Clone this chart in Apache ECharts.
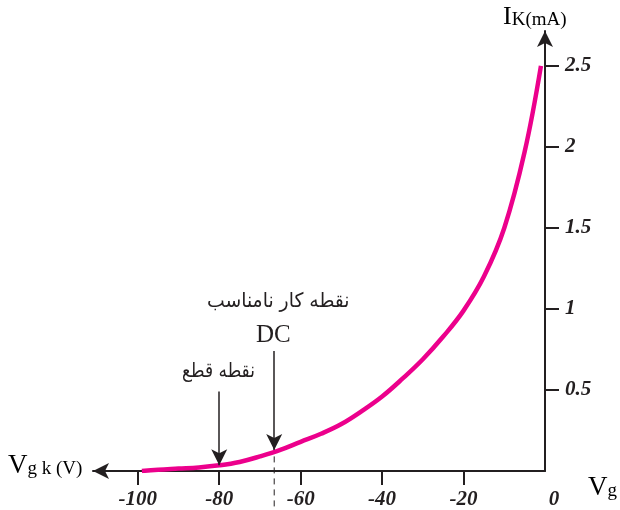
<!DOCTYPE html>
<html lang="fa">
  <head>
    <meta charset="UTF-8" />
    <title>Ik - Vgk</title>
    <style>
      html, body { margin: 0; padding: 0; background: #fff; }
      #main { width: 620px; height: 510px; }
    </style>
  </head>
  <body>
    <div id="main"></div>
    <script src="https://cdn.jsdelivr.net/npm/echarts@6/dist/echarts.min.js"></script>
    <script>
      // curve data: grid voltage (V) and cathode current (mA)
      const vgk = [-99, -95, -90, -85, -80, -75, -70, -65, -60, -55, -50, -45, -40, -35, -30, -25, -20, -15, -10, -5, -1];
      const ik = [0.0, 0.008, 0.015, 0.022, 0.035, 0.056, 0.09, 0.13, 0.18, 0.23, 0.29, 0.37, 0.46, 0.57, 0.69, 0.83, 0.99, 1.2, 1.5, 1.97, 2.5];

      const xTicks = [-100, -80, -60, -40, -20];
      const xLabels = [-100, -80, -60, -40, -20, 0];
      const yTicks = [0.5, 1, 1.5, 2, 2.5];

      // annotation arrows [x, yFrom, yTo]
      const cutArrow = [-80, 0.49, 0.035];
      const dcArrow = [-66.5, 0.74, 0.13];
      const dcDash = [-66.5, 0.09, -0.26];

      const ink = "#231f20";
      const pink = "#ec008c";
      const numFont = { fontFamily: "Liberation Serif", fontStyle: "italic", fontWeight: "bold", fontSize: 21, color: ink };

      const myChart = echarts.init(document.getElementById("main"));
      const option = {
        animation: false,
        grid: { left: 93, right: 75, top: 31, bottom: 39 },
        xAxis: {
          type: "value",
          min: -111,
          max: 0,
          splitLine: { show: false },
          axisLine: { lineStyle: { color: ink, width: 2 }, symbol: ["arrow", "none"], symbolSize: [12, 16] },
          axisTick: { customValues: xTicks, length: 14, lineStyle: { color: ink, width: 2 } },
          axisLabel: Object.assign({
            customValues: xLabels,
            margin: 18,
            formatter: (v) => (v === 0 ? "{z|0}" : String(v)),
            rich: { z: Object.assign({ padding: [0, 0, 0, 18] }, numFont) }
          }, numFont)
        },
        yAxis: {
          type: "value",
          position: "right",
          min: 0,
          max: 2.716,
          splitLine: { show: false },
          axisLine: { lineStyle: { color: ink, width: 2 }, symbol: ["none", "arrow"], symbolSize: [12, 16] },
          axisTick: { customValues: yTicks, length: 14, lineStyle: { color: ink, width: 2 } },
          axisLabel: Object.assign({ customValues: yTicks, margin: 20 }, numFont)
        },
        series: [
          {
            type: "line",
            data: vgk.map((v, i) => [v, ik[i]]),
            smooth: 0.4,
            showSymbol: false,
            lineStyle: { color: pink, width: 4.5 },
            markLine: {
              silent: true,
              symbol: ["none", "arrow"],
              symbolSize: [12, 16],
              label: { show: false },
              lineStyle: { color: ink, width: 1.5, type: "solid" },
              data: [
                [{ coord: [cutArrow[0], cutArrow[1]] }, { coord: [cutArrow[0], cutArrow[2]] }],
                [{ coord: [dcArrow[0], dcArrow[1]] }, { coord: [dcArrow[0], dcArrow[2]] }]
              ]
            }
          }
        ],
        graphic: [
          {
            type: "text", left: 503, top: 4,
            style: {
              text: "{a|I}{b|K(mA)}",
              rich: {
                a: { fontFamily: "Liberation Serif", fontSize: 26, color: ink, verticalAlign: "bottom" },
                b: { fontFamily: "Liberation Serif", fontSize: 19, color: ink, verticalAlign: "bottom" }
              }
            }
          },
          {
            type: "text", left: 8, top: 452,
            style: {
              text: "{a|V}{b|g k (V)}",
              rich: {
                a: { fontFamily: "Liberation Serif", fontSize: 27, color: ink, verticalAlign: "bottom" },
                b: { fontFamily: "Liberation Serif", fontSize: 19, color: ink, verticalAlign: "bottom" }
              }
            }
          },
          {
            type: "text", left: 588, top: 474,
            style: {
              text: "{a|V}{b|g}",
              rich: {
                a: { fontFamily: "Liberation Serif", fontSize: 27, color: ink, verticalAlign: "bottom" },
                b: { fontFamily: "Liberation Serif", fontSize: 19, color: ink, verticalAlign: "bottom" }
              }
            }
          },
          {
            type: "text", x: 207, y: 292, scaleX: 0.94,
            style: { text: "نقطه کار نامناسب", fontFamily: "DejaVu Sans", fontSize: 20, fill: ink }
          },
          {
            type: "text", left: 256, top: 323,
            style: { text: "DC", fontFamily: "Liberation Serif", fontSize: 25, fill: ink }
          },
          {
            type: "text", x: 182, y: 362, scaleX: 0.85,
            style: { text: "نقطه قطع", fontFamily: "DejaVu Sans", fontSize: 20, fill: ink }
          }
        ]
      };
      myChart.setOption(option);

      // dashed guide under the DC arrow, placed through the axes' own scale
      const p1 = myChart.convertToPixel({ gridIndex: 0 }, [dcDash[0], dcDash[1]]);
      const p2 = myChart.convertToPixel({ gridIndex: 0 }, [dcDash[0], dcDash[2]]);
      myChart.setOption({
        graphic: option.graphic.concat([
          {
            type: "line",
            shape: { x1: p1[0], y1: p1[1], x2: p2[0], y2: p2[1] },
            style: { stroke: ink, lineWidth: 1, lineDash: [6, 5] }
          }
        ])
      });
    </script>
  </body>
</html>
